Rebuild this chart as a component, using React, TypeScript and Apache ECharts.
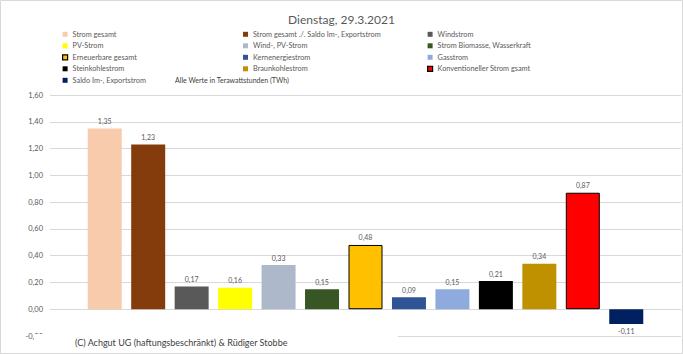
import React, { useEffect, useRef } from "react";
import * as echarts from "echarts";

const title = "Dienstag, 29.3.2021";
const categories = [
  "Strom gesamt",
  "Strom gesamt ./. Saldo Im-, Exportstrom",
  "Windstrom",
  "PV-Strom",
  "Wind-, PV-Strom",
  "Strom Biomasse, Wasserkraft",
  "Erneuerbare gesamt",
  "Kernenergiestrom",
  "Gasstrom",
  "Steinkohlestrom",
  "Braunkohlestrom",
  "Konventioneller Strom gsamt",
  "Saldo Im-, Exportstrom",
];
const values = [1.35, 1.23, 0.17, 0.16, 0.33, 0.15, 0.48, 0.09, 0.15, 0.21, 0.34, 0.87, -0.11];
const colors = [
  "#F8CBAD", "#843C0C", "#595959", "#FFFF00", "#ADB9CA", "#375623", "#FFC000",
  "#2F5597", "#8FAADC", "#000000", "#BF9000", "#FF0000", "#002060",
];
const bordered = [6, 11];
const legendCol1 = [0, 3, 6, 9, 12];
const legendCol2 = [1, 4, 7, 10];
const legendCol3 = [2, 5, 8, 11];
const yTicks = { min: -0.2, max: 1.6, interval: 0.2 };
const unitNote = "Alle Werte in Terawattstunden (TWh)";
const copyright = "(C) Achgut UG (haftungsbeschränkt) & Rüdiger Stobbe";

const FONT = "Lato, 'Open Sans', sans-serif";
const fmt = (v: number) => v.toFixed(2).replace(".", ",");

export default function App() {
  const ref = useRef<HTMLDivElement>(null);
  useEffect(() => {
    if (!ref.current) return;
    const chart = echarts.init(ref.current, null, { renderer: "svg" });
    const legendBase = {
      orient: "vertical" as const,
      top: 30.3,
      itemWidth: 5,
      itemHeight: 5,
      itemGap: 3.5,
      icon: "rect",
      padding: 0,
      selectedMode: false,
      textStyle: { fontFamily: FONT, fontSize: 7.3, color: "#595959", lineHeight: 8 },
    };
    const legendData = (idx: number[]) =>
      idx.map((i) =>
        bordered.includes(i)
          ? { name: categories[i], itemStyle: { borderColor: "#000000", borderWidth: 1.2 } }
          : { name: categories[i], itemStyle: { borderWidth: 0 } }
      );
    const series = categories.map((name, i) => ({
      name,
      type: "bar",
      stack: "all",
      xAxisIndex: 1,
      yAxisIndex: 1,
      barWidth: 34,
      itemStyle: bordered.includes(i)
        ? { color: colors[i], borderColor: "#000000", borderWidth: 1 }
        : { color: colors[i] },
      label: {
        show: true,
        position: values[i] < 0 ? "bottom" : "top",
        distance: 4,
        fontFamily: FONT,
        fontSize: 7,
        color: "#595959",
        formatter: (p: any) => fmt(p.value),
      },
      data: values.map((v, j) => (j === i ? v : "-")),
    }));
    chart.setOption({
      animation: false,
      backgroundColor: "#ffffff",
      title: {
        text: title,
        left: "center",
        top: 8,
        textStyle: { fontFamily: FONT, fontSize: 12, fontWeight: "normal", color: "#595959" },
      },
      legend: [
        { ...legendBase, left: 62, data: legendData(legendCol1) },
        { ...legendBase, left: 243, data: legendData(legendCol2) },
        { ...legendBase, left: 427, data: legendData(legendCol3) },
      ],
      grid: [
        { left: 50, right: 2, top: 95, bottom: 18 },
        { left: 83, right: 35, top: 95, bottom: 18 },
      ],
      xAxis: [
        { type: "category", gridIndex: 0, data: [""], show: false },
        {
          type: "category",
          gridIndex: 1,
          data: categories,
          axisLine: { show: false },
          axisTick: { show: false },
          axisLabel: { show: false },
        },
      ],
      yAxis: [
        {
          type: "value",
          gridIndex: 0,
          ...yTicks,
          axisLine: { show: false },
          axisTick: { show: false },
          axisLabel: {
            fontFamily: FONT,
            fontSize: 7.5,
            color: "#595959",
            margin: 7,
            formatter: (v: number) => fmt(v),
          },
          splitLine: { lineStyle: { color: "#d9d9d9", width: 1 } },
        },
        { type: "value", gridIndex: 1, ...yTicks, show: false, splitLine: { show: false } },
      ],
      series,
      graphic: [
        {
          type: "text",
          left: 175,
          top: 76.5,
          style: { text: unitNote, font: `7px ${FONT}`, fill: "#404040" },
        },
        {
          type: "rect",
          z: 100,
          shape: { x: 34, y: 334, width: 364, height: 19 },
          style: { fill: "#ffffff" },
        },
        {
          type: "text",
          z: 101,
          left: 75,
          top: 337.5,
          style: { text: copyright, font: `9px ${FONT}`, fill: "#404040" },
        },
        {
          type: "rect",
          z: 102,
          shape: { x: 0.5, y: 0.5, width: 682, height: 353 },
          style: { fill: "none", stroke: "#d9d9d9", lineWidth: 1 },
        },
      ],
    });
    return () => chart.dispose();
  }, []);
  return (
    <div
      ref={ref}
      style={{ position: "absolute", left: 0, top: 0, width: 683, height: 354 }}
    />
  );
}
